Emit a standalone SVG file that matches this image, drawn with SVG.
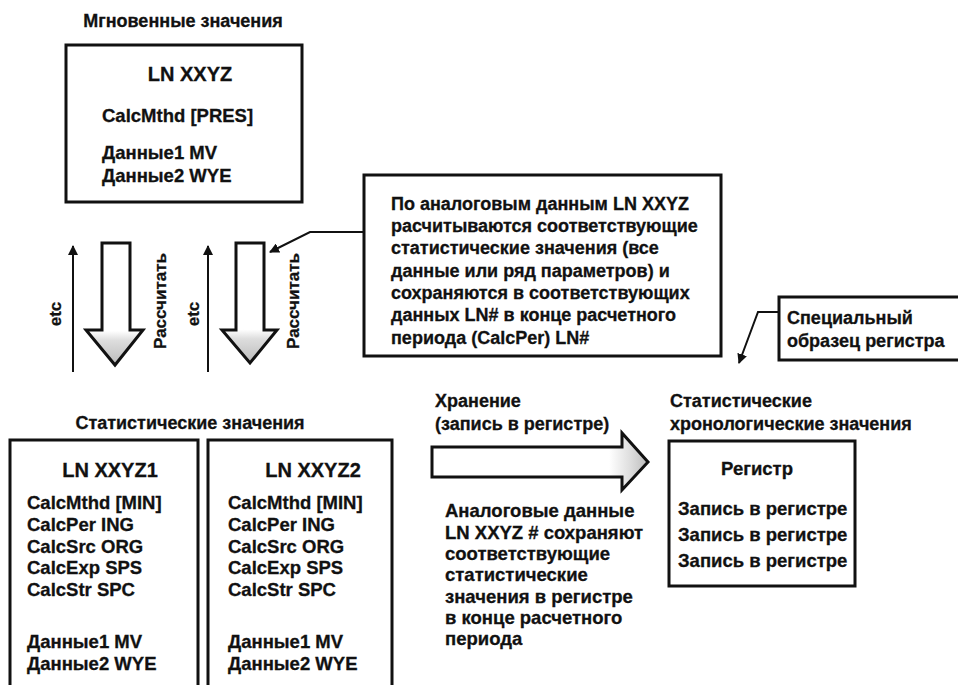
<svg xmlns="http://www.w3.org/2000/svg" width="958" height="685" viewBox="0 0 958 685">
<style>
text{font-family:"Liberation Sans",Arial,sans-serif;font-weight:bold;fill:#111;stroke:#111;stroke-width:0.3}
.t{font-size:18.5px}
.c{font-size:18px}
.h{font-size:20px}
.s{font-size:17px}
.box{fill:#fff;stroke:#111;stroke-width:3}
.ln{fill:none;stroke:#111;stroke-width:2}
.blk{stroke:#111;stroke-width:3;stroke-linejoin:miter}
</style>
<defs>
<marker id="ah" viewBox="0 0 10 10" refX="9" refY="5" markerWidth="5" markerHeight="5" orient="auto" markerUnits="strokeWidth">
<path d="M0,0 L10,5 L0,10 Z" fill="#111"/>
</marker>
<linearGradient id="gv" x1="0" y1="0" x2="0" y2="1">
<stop offset="0" stop-color="#fff"/>
<stop offset="0.72" stop-color="#fff"/>
<stop offset="0.8" stop-color="#ddd"/>
<stop offset="1" stop-color="#bbb"/>
</linearGradient>
<linearGradient id="gh" x1="0" y1="0" x2="1" y2="0">
<stop offset="0" stop-color="#fff"/>
<stop offset="0.82" stop-color="#fff"/>
<stop offset="0.92" stop-color="#ddd"/>
<stop offset="1" stop-color="#bbb"/>
</linearGradient>
</defs>

<g id="title-inst"><text class="c" x="183" y="27" text-anchor="middle">Мгновенные значения</text></g>

<g id="ln-xxyz">
<rect class="box" x="66" y="45" width="236" height="157"/>
<text class="h" x="190" y="81" text-anchor="middle">LN XXYZ</text>
<text class="t" x="102" y="122">CalcMthd [PRES]</text>
<text class="t" x="102" y="159">Данные1 MV</text>
<text class="t" x="102" y="182">Данные2 WYE</text>
</g>

<g id="callout">
<rect class="box" x="364" y="175" width="357" height="181"/>
<text class="c" x="391" y="210">По аналоговым данным LN XXYZ</text>
<text class="c" x="391" y="232">расчитываются соответствующие</text>
<text class="c" x="391" y="254">статистические значения (все</text>
<text class="c" x="391" y="277">данные или ряд параметров) и</text>
<text class="c" x="391" y="299">сохраняются в соответствующих</text>
<text class="c" x="391" y="321">данных LN# в конце расчетного</text>
<text class="c" x="391" y="344">периода (CalcPer) LN#</text>
</g>

<g id="special">
<rect class="box" x="779" y="297" width="182" height="63"/>
<text class="c" x="787" y="324">Специальный</text>
<text class="c" x="787" y="347">образец регистра</text>
</g>

<g id="title-stat"><text class="c" x="190" y="429" text-anchor="middle">Статистические значения</text></g>

<g id="ln-xxyz1">
<rect class="box" x="10" y="440" width="188" height="250"/>
<text class="h" x="110" y="477" text-anchor="middle">LN XXYZ1</text>
<text class="t" x="27" y="509">CalcMthd [MIN]</text>
<text class="t" x="27" y="531">CalcPer ING</text>
<text class="t" x="27" y="553">CalcSrc ORG</text>
<text class="t" x="27" y="574">CalcExp SPS</text>
<text class="t" x="27" y="596">CalcStr SPC</text>
<text class="t" x="27" y="648">Данные1 MV</text>
<text class="t" x="27" y="670">Данные2 WYE</text>
</g>

<g id="ln-xxyz2">
<rect class="box" x="208" y="440" width="184" height="250"/>
<text class="h" x="313" y="477" text-anchor="middle">LN XXYZ2</text>
<text class="t" x="228" y="509">CalcMthd [MIN]</text>
<text class="t" x="228" y="531">CalcPer ING</text>
<text class="t" x="228" y="553">CalcSrc ORG</text>
<text class="t" x="228" y="574">CalcExp SPS</text>
<text class="t" x="228" y="596">CalcStr SPC</text>
<text class="t" x="228" y="648">Данные1 MV</text>
<text class="t" x="228" y="670">Данные2 WYE</text>
</g>

<g id="storage-label">
<text class="c" x="435" y="407">Хранение</text>
<text class="c" x="435" y="430">(запись в регистре)</text>
</g>

<g id="storage-note">
<text class="t" x="445" y="517">Аналоговые данные</text>
<text class="t" x="445" y="539">LN XXYZ # сохраняют</text>
<text class="t" x="445" y="560">соответствующие</text>
<text class="t" x="445" y="581">статистические</text>
<text class="t" x="445" y="603">значения в регистре</text>
<text class="t" x="445" y="624">в конце расчетного</text>
<text class="t" x="445" y="645">периода</text>
</g>

<g id="title-hist">
<text class="c" x="670" y="407">Статистические</text>
<text class="c" x="670" y="430">хронологические значения</text>
</g>

<g id="register">
<rect class="box" x="669" y="441" width="186" height="145"/>
<text class="t" x="757" y="475" text-anchor="middle">Регистр</text>
<text class="t" x="678" y="515">Запись в регистре</text>
<text class="t" x="678" y="541">Запись в регистре</text>
<text class="t" x="678" y="567">Запись в регистре</text>
</g>

<g id="vlabels">
<text class="s" transform="translate(61,314) rotate(-90)" text-anchor="middle">etc</text>
<text class="s" transform="translate(166,301) rotate(-90)" text-anchor="middle">Рассчитать</text>
<text class="s" transform="translate(199,314) rotate(-90)" text-anchor="middle">etc</text>
<text class="s" transform="translate(299,301) rotate(-90)" text-anchor="middle">Рассчитать</text>
</g>

<g id="connectors">
<line class="ln" x1="73" y1="372" x2="73" y2="246" marker-end="url(#ah)"/>
<line class="ln" x1="208" y1="372" x2="208" y2="246" marker-end="url(#ah)"/>
<path class="blk" fill="url(#gv)" d="M102,243 H130 V330 H143 L115,365 L86,330 H102 Z"/>
<path class="blk" fill="url(#gv)" d="M236,243 H264 V330 H277 L250,363 L222,330 H236 Z"/>
<path class="blk" fill="url(#gh)" d="M432,447 H622 V433 L648,462 L622,490 V477 H432 Z"/>
<polyline class="ln" points="364,232 310,232 270,252" marker-end="url(#ah)"/>
<polyline class="ln" points="779,312 758,312 739,363" marker-end="url(#ah)"/>
</g>
</svg>
